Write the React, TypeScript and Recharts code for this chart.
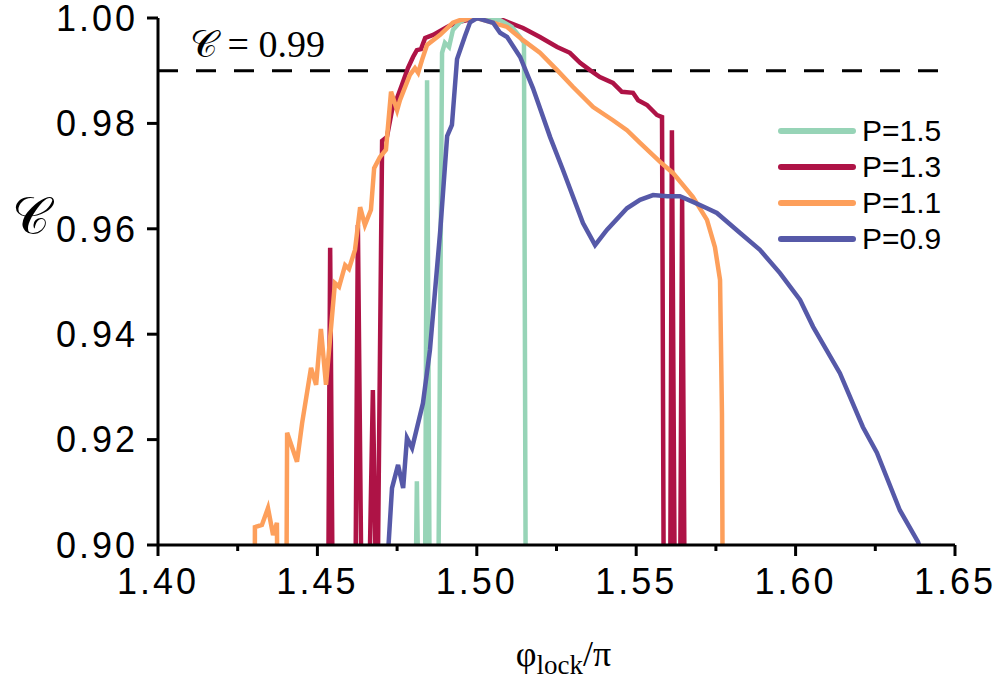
import { LineChart, Line, XAxis, YAxis, ReferenceLine, Legend } from 'recharts';

// phase values (x) and C values (y) for each pump strength P
const p15X = [1.4806, 1.4812, 1.4819, 1.4837, 1.4844, 1.4853, 1.4878, 1.4891, 1.49, 1.4913, 1.4925, 1.4947, 1.4969, 1.5, 1.504, 1.5073, 1.511, 1.5136, 1.5148, 1.5154];
const p15Y = [0.88, 0.9121, 0.88, 0.88, 0.9882, 0.88, 0.88, 0.9934, 0.9953, 0.9945, 0.9977, 0.9992, 0.9999, 1.0, 0.9999, 0.9996, 0.9983, 0.9964, 0.9953, 0.88];

const p13X = [1.4533, 1.454, 1.4549, 1.4618, 1.4627, 1.464, 1.4659, 1.4674, 1.4687, 1.4703, 1.4718, 1.4734, 1.475, 1.4765, 1.4784, 1.48, 1.4812, 1.4825, 1.4838, 1.4863, 1.4907, 1.4938, 1.5001, 1.5082, 1.5145, 1.5198, 1.5252, 1.5292, 1.5324, 1.5355, 1.5386, 1.5427, 1.5455, 1.549, 1.5506, 1.5534, 1.5565, 1.5581, 1.5587, 1.5606, 1.5612, 1.5622, 1.5637, 1.5644, 1.5653];
const p13Y = [0.88, 0.9564, 0.88, 0.88, 0.9607, 0.88, 0.88, 0.9294, 0.88, 0.9767, 0.9774, 0.9825, 0.9848, 0.9873, 0.9905, 0.9926, 0.9939, 0.9941, 0.9962, 0.9968, 0.9983, 0.9992, 1.0, 0.9996, 0.9981, 0.9964, 0.9945, 0.9934, 0.9915, 0.9901, 0.9888, 0.9877, 0.986, 0.9858, 0.9844, 0.9835, 0.9816, 0.9812, 0.88, 0.88, 0.9787, 0.88, 0.88, 0.9658, 0.88];

const p11X = [1.4303, 1.4304, 1.4326, 1.4345, 1.4361, 1.4373, 1.4376, 1.4402, 1.4405, 1.4436, 1.4452, 1.448, 1.4496, 1.4511, 1.4527, 1.4555, 1.4568, 1.4587, 1.4599, 1.4618, 1.4634, 1.4649, 1.4668, 1.4678, 1.4696, 1.4715, 1.4731, 1.475, 1.4759, 1.479, 1.4806, 1.4816, 1.4828, 1.4844, 1.4885, 1.4925, 1.4947, 1.5001, 1.5095, 1.5145, 1.5198, 1.5252, 1.5302, 1.5365, 1.5427, 1.5471, 1.5512, 1.5575, 1.5615, 1.5678, 1.5722, 1.5747, 1.5763, 1.5769, 1.5772];
const p11Y = [0.88, 0.9034, 0.9038, 0.907, 0.9019, 0.9042, 0.88, 0.88, 0.9213, 0.9158, 0.9231, 0.9336, 0.9304, 0.941, 0.9304, 0.9497, 0.949, 0.9531, 0.9524, 0.956, 0.9641, 0.9607, 0.9636, 0.9715, 0.9736, 0.975, 0.986, 0.9825, 0.9844, 0.9892, 0.9905, 0.9896, 0.992, 0.9949, 0.9968, 0.9991, 0.9996, 1.0, 0.9983, 0.9958, 0.9934, 0.9901, 0.9869, 0.9831, 0.9806, 0.9787, 0.9763, 0.9727, 0.9706, 0.966, 0.9617, 0.9565, 0.9503, 0.925, 0.88];

const p09X = [1.4718, 1.4734, 1.4753, 1.4769, 1.4781, 1.4797, 1.4831, 1.4853, 1.4885, 1.4907, 1.4922, 1.4938, 1.4963, 1.4979, 1.5001, 1.5051, 1.5073, 1.5095, 1.5136, 1.5176, 1.523, 1.527, 1.5333, 1.5371, 1.5408, 1.5471, 1.5512, 1.5553, 1.5597, 1.5637, 1.5678, 1.5722, 1.5753, 1.5826, 1.5888, 1.5951, 1.6014, 1.6055, 1.6139, 1.6211, 1.6255, 1.6327, 1.6384, 1.6393];
const p09Y = [0.895, 0.9108, 0.9152, 0.9108, 0.9203, 0.9184, 0.9269, 0.937, 0.9594, 0.9776, 0.9797, 0.9922, 0.9966, 0.9992, 1.0, 0.9991, 0.9972, 0.9964, 0.9926, 0.9867, 0.9774, 0.9712, 0.9611, 0.9569, 0.9598, 0.9639, 0.9655, 0.9664, 0.9662, 0.9662, 0.9651, 0.9639, 0.963, 0.9592, 0.956, 0.9516, 0.9465, 0.9414, 0.9326, 0.9224, 0.9175, 0.9066, 0.9006, 0.899];

const xTicks = [1.4, 1.425, 1.45, 1.475, 1.5, 1.525, 1.55, 1.575, 1.6, 1.625, 1.65];
const yTicks = [0.9, 0.92, 0.94, 0.96, 0.98, 1.0];
const threshold = 0.99;

const toPoints = (xs: number[], ys: number[]) => xs.map((x, i) => ({ x, y: ys[i] }));

const series = [
  { name: 'P=1.5', color: '#97d4b7', data: toPoints(p15X, p15Y) },
  { name: 'P=1.3', color: '#ae1346', data: toPoints(p13X, p13Y) },
  { name: 'P=1.1', color: '#fd9f5b', data: toPoints(p11X, p11Y) },
  { name: 'P=0.9', color: '#5659a8', data: toPoints(p09X, p09Y) },
];

// draw order: crimson under the others
const drawOrder = [1, 0, 2, 3];

const SANS = '"Liberation Sans", Arial, sans-serif';
const SERIF = '"Liberation Serif", "Times New Roman", serif';

const XTick = ({ x, y, payload }: any) => {
  const major = Math.round(payload.value * 1000) % 50 === 0;
  return (
    <g>
      <line x1={x} x2={x} y1={y} y2={y + (major ? 11 : 6)} stroke="#000" strokeWidth={3} />
      {major && (
        <text x={x} y={y + 49} textAnchor="middle" fontFamily={SANS} fontSize={36} letterSpacing={3} fill="#000">
          {payload.value.toFixed(2)}
        </text>
      )}
    </g>
  );
};

const renderLegend = () => (
  <div style={{ fontFamily: SANS, fontSize: 30, color: '#000' }}>
    {series.map((s) => (
      <div key={s.name} style={{ display: 'flex', alignItems: 'center', height: 36 }}>
        <svg width={82} height={36}>
          <line x1={3} x2={75} y1={18} y2={18} stroke={s.color} strokeWidth={6} strokeLinecap="round" />
        </svg>
        <span style={{ marginLeft: 2, lineHeight: '36px' }}>{s.name}</span>
      </div>
    ))}
  </div>
);

export default function App() {
  return (
    <div style={{ width: 996, height: 682 }}>
      <style>{'body{margin:0}'}</style>
      <LineChart width={996} height={682} margin={{ top: 18, right: 41, left: 0, bottom: 0 }}>
        <XAxis
          dataKey="x"
          type="number"
          domain={[1.4, 1.65]}
          ticks={xTicks}
          interval={0}
          height={137}
          tickSize={0}
          tickMargin={0}
          tickLine={false}
          tick={<XTick />}
          axisLine={{ stroke: '#000', strokeWidth: 3 }}
          allowDataOverflow
          label={{
            content: ({ viewBox }: any) => (
              <text x={viewBox.x + viewBox.width / 2 + 7} y={viewBox.y + 121} textAnchor="middle" fontFamily={SERIF} fontSize={36} fill="#000">
                φ<tspan fontSize={27} dy={8}>lock</tspan><tspan dy={-8}>/π</tspan>
              </text>
            ),
          }}
        />
        <XAxis
          xAxisId="top"
          orientation="top"
          type="number"
          domain={[1.4, 1.65]}
          height={0}
          tick={false}
          tickLine={false}
          axisLine={{ stroke: '#000', strokeWidth: 3 }}
        />
        <YAxis
          type="number"
          domain={[0.9, 1.0]}
          ticks={yTicks}
          interval={0}
          width={158}
          allowDataOverflow
          tickSize={11}
          tickMargin={9}
          tickFormatter={(v: number) => v.toFixed(2)}
          tick={{ fontFamily: SANS, fontSize: 36, fill: '#000', letterSpacing: 3 }}
          tickLine={{ stroke: '#000', strokeWidth: 3 }}
          axisLine={{ stroke: '#000', strokeWidth: 3 }}
          label={{
            content: ({ viewBox }: any) => (
              <text x={viewBox.x + 12} y={viewBox.y + viewBox.height / 2 - 48} fontFamily={SERIF} fontSize={52} fill="#000">
                𝒞
              </text>
            ),
          }}
        />
        <YAxis
          yAxisId="right"
          orientation="right"
          type="number"
          domain={[0.9, 1.0]}
          width={0}
          tick={false}
          tickLine={false}
          axisLine={{ stroke: '#000', strokeWidth: 3 }}
        />
        <ReferenceLine
          y={threshold}
          stroke="#000"
          strokeWidth={3}
          strokeDasharray="20 18"
          label={{
            content: ({ viewBox }: any) => (
              <text x={viewBox.x + 32} y={viewBox.y - 14} fontFamily={SERIF} fontSize={38} fill="#000">
                𝒞 = 0.99
              </text>
            ),
          }}
        />
        {drawOrder.map((i) => (
          <Line
            key={series[i].name}
            data={series[i].data}
            dataKey="y"
            name={series[i].name}
            type="linear"
            stroke={series[i].color}
            strokeWidth={4.5}
            dot={false}
            activeDot={false}
            isAnimationActive={false}
          />
        ))}
        <Legend
          layout="vertical"
          align="center"
          verticalAlign="middle"
          content={renderLegend}
          wrapperStyle={{ left: 778, top: 113, width: 200 }}
        />
      </LineChart>
    </div>
  );
}
